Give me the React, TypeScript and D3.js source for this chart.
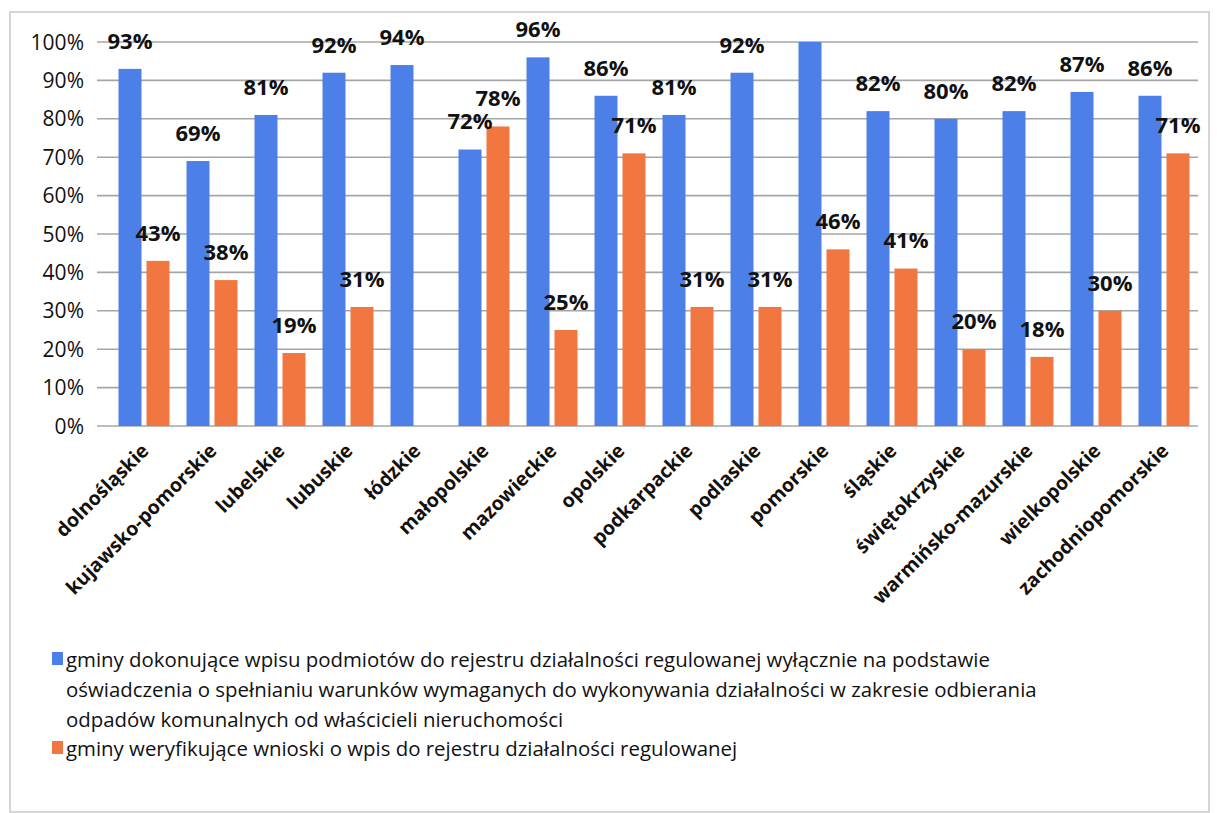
import React from "react";
import * as d3 from "d3";

const categories = [
  "dolnośląskie", "kujawsko-pomorskie", "lubelskie", "lubuskie", "łódzkie",
  "małopolskie", "mazowieckie", "opolskie", "podkarpackie", "podlaskie",
  "pomorskie", "śląskie", "świętokrzyskie", "warmińsko-mazurskie",
  "wielkopolskie", "zachodniopomorskie",
];
const blueValues: (number | null)[] = [93, 69, 81, 92, 94, 72, 96, 86, 81, 92, 100, 82, 80, 82, 87, 86];
const orangeValues: (number | null)[] = [43, 38, 19, 31, null, 78, 25, 71, 31, 31, 46, 41, 20, 18, 30, 71];
const blueLabelShown = [true, true, true, true, true, true, true, true, true, true, false, true, true, true, true, true];
const yTicks = [0, 10, 20, 30, 40, 50, 60, 70, 80, 90, 100];
const legendBlueLines = [
  "gminy dokonujące wpisu podmiotów do rejestru działalności regulowanej wyłącznie na podstawie",
  "oświadczenia o spełnianiu warunków wymaganych do wykonywania działalności w zakresie odbierania",
  "odpadów komunalnych od właścicieli nieruchomości",
];
const legendOrangeLines = ["gminy weryfikujące wnioski o wpis do rejestru działalności regulowanej"];

const BLUE = "#4C80E8";
const ORANGE = "#F2763F";

export default function App() {
  const W = 1217, H = 813;
  const plotLeft = 97, plotRight = 1198;
  const y = d3.scaleLinear().domain([0, 100]).range([426, 42]);
  const x = d3.scaleBand<string>().domain(categories).range([110, 1198]).paddingInner(0).paddingOuter(0);
  const bw = 23, gap = 5;
  const pairOffset = (x.bandwidth() - (2 * bw + gap)) / 2;
  const labelFont = "'Open Sans', sans-serif";

  return (
    <div style={{ position: "absolute", left: 0, top: 0 }}>
      <svg width={W} height={H} style={{ display: "block", background: "#fff" }}>
        <rect x={10} y={12} width={1199} height={800} fill="none" stroke="#c8c8c8" strokeWidth={1.5} />
        {yTicks.map((t) => (
          <g key={t}>
            <line x1={plotLeft} x2={plotRight} y1={y(t)} y2={y(t)} stroke="#a6a6a6" strokeWidth={1.6} />
            <text x={84} y={y(t)} dy="0.36em" textAnchor="end" fontFamily={labelFont} fontSize={21} fill="#111">
              {t}%
            </text>
          </g>
        ))}
        {categories.map((c, i) => {
          const x0 = (x(c) as number) + pairOffset;
          const b = blueValues[i];
          const o = orangeValues[i];
          return (
            <g key={c}>
              {b != null && (
                <rect x={x0} y={y(b)} width={bw} height={y(0) - y(b)} fill={BLUE} />
              )}
              {o != null && (
                <rect x={x0 + bw + gap} y={y(o)} width={bw} height={y(0) - y(o)} fill={ORANGE} />
              )}
            </g>
          );
        })}
        {categories.map((c, i) => {
          const x0 = (x(c) as number) + pairOffset;
          const b = blueValues[i];
          const o = orangeValues[i];
          return (
            <g key={c + "l"}>
              {b != null && blueLabelShown[i] && (
                <text x={x0 + bw / 2} y={y(b) - 28} dy="0.36em" textAnchor="middle" fontFamily={labelFont}
                  fontWeight={700} fontSize={22} fill="#111">{b}%</text>
              )}
              {o != null && (
                <text x={x0 + bw + gap + bw / 2} y={y(o) - 28} dy="0.36em" textAnchor="middle" fontFamily={labelFont}
                  fontWeight={700} fontSize={22} fill="#111">{o}%</text>
              )}
            </g>
          );
        })}
        {categories.map((c) => {
          const cx = (x(c) as number) + x.bandwidth() / 2 + 6;
          return (
            <text key={c + "x"} transform={`translate(${cx},${452}) rotate(-45)`} textAnchor="end"
              fontFamily={labelFont} fontWeight={700} fontSize={19.5} fill="#111">
              {c}
            </text>
          );
        })}
        <rect x={52} y={652} width={11} height={13} fill={BLUE} />
        {legendBlueLines.map((l, i) => (
          <text key={l} x={66} y={667 + i * 30} fontFamily={labelFont} fontSize={20.4} fill="#111">{l}</text>
        ))}
        <rect x={52} y={741} width={11} height={13} fill={ORANGE} />
        {legendOrangeLines.map((l) => (
          <text key={l} x={66} y={756} fontFamily={labelFont} fontSize={20.4} fill="#111">{l}</text>
        ))}
      </svg>
    </div>
  );
}
